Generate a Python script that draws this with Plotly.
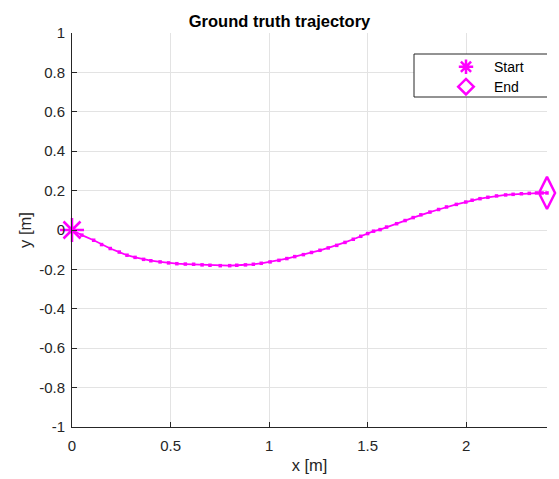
import plotly.graph_objects as go

# Trajectory samples
x_vals = [0.0, 0.05, 0.11, 0.15, 0.194, 0.24, 0.279, 0.32, 0.363, 0.40, 0.447, 0.49, 0.532, 0.575,
          0.617, 0.66, 0.70, 0.752, 0.80, 0.836, 0.88, 0.920, 0.96, 1.005, 1.05, 1.09, 1.13, 1.174,
          1.215, 1.258, 1.30, 1.343, 1.385, 1.427, 1.465, 1.50, 1.53, 1.563, 1.596, 1.647, 1.69,
          1.731, 1.77, 1.816, 1.86, 1.90, 1.95, 1.998, 2.03, 2.07, 2.11, 2.154, 2.20, 2.238, 2.28,
          2.32, 2.357, 2.385, 2.41]
y_vals = [0.0, -0.026, -0.052, -0.074, -0.094, -0.112, -0.128, -0.139, -0.149, -0.156, -0.162,
          -0.167, -0.171, -0.173, -0.174, -0.177, -0.179, -0.181, -0.181, -0.179, -0.177, -0.174,
          -0.169, -0.162, -0.154, -0.145, -0.135, -0.125, -0.114, -0.103, -0.091, -0.078, -0.063,
          -0.047, -0.032, -0.018, -0.006, 0.002, 0.015, 0.032, 0.048, 0.063, 0.077, 0.091, 0.104,
          0.117, 0.130, 0.142, 0.151, 0.159, 0.166, 0.173, 0.178, 0.181, 0.184, 0.186, 0.188,
          0.188, 0.188]

x_tick_vals = [0, 0.5, 1, 1.5, 2]
x_tick_text = ["0", "0.5", "1", "1.5", "2"]
y_tick_vals = [1, 0.8, 0.6, 0.4, 0.2, 0, -0.2, -0.4, -0.6, -0.8, -1]
y_tick_text = ["1", "0.8", "0.6", "0.4", "0.2", "0", "-0.2", "-0.4", "-0.6", "-0.8", "-1"]

legend_names = ["Start", "End"]

MAG = "#ff00ff"
INK = "#262626"
FONT = "Liberation Sans, Arial, sans-serif"

W, H = 559, 479
ML, MR, MT, MB = 72, 12, 33, 52
PW, PH = W - ML - MR, H - MT - MB


def px2x(px):
    return (px - ML) / PW


def py2y(py):
    return (H - MB - py) / PH


fig = go.Figure()
fig.add_trace(go.Scatter(
    x=x_vals, y=y_vals, mode="lines+markers",
    line=dict(color=MAG, width=1.8),
    marker=dict(color=MAG, size=3.5, symbol="square"),
    showlegend=False, hoverinfo="skip", cliponaxis=False))
fig.add_trace(go.Scatter(
    x=[x_vals[0]], y=[y_vals[0]], mode="markers", showlegend=False, name=legend_names[0],
    marker=dict(symbol="asterisk-open", size=20, color=MAG, line=dict(color=MAG, width=2.5)),
    cliponaxis=False))
fig.add_trace(go.Scatter(
    x=[x_vals[-1]], y=[y_vals[-1]], mode="markers", showlegend=False, name=legend_names[1],
    marker=dict(symbol="diamond-tall-open", size=23, color=MAG, line=dict(color=MAG, width=2.5)),
    cliponaxis=False))

# Legend box (drawn as a MATLAB-style legend)
leg_left, leg_right, leg_top, leg_bot = 414, 551, 54, 97
leg_sym_x, leg_txt_x = 466, 492
leg_rows = [66.7, 86.7]
leg_symbols = ["asterisk-open", "diamond-open"]

fig.add_trace(go.Scatter(
    x=[px2x(leg_left), px2x(leg_right), px2x(leg_right), px2x(leg_left), px2x(leg_left)],
    y=[py2y(leg_bot), py2y(leg_bot), py2y(leg_top), py2y(leg_top), py2y(leg_bot)],
    xaxis="x2", yaxis="y2", mode="lines", fill="toself", fillcolor="white",
    line=dict(color=INK, width=1), showlegend=False, hoverinfo="skip", cliponaxis=False))
for name, sym, row in zip(legend_names, leg_symbols, leg_rows):
    fig.add_trace(go.Scatter(
        x=[px2x(leg_sym_x)], y=[py2y(row)], xaxis="x2", yaxis="y2", mode="markers",
        marker=dict(symbol=sym, size=12, color=MAG, line=dict(color=MAG, width=2.5)),
        showlegend=False, hoverinfo="skip", cliponaxis=False))
    fig.add_annotation(xref="paper", yref="paper", x=px2x(leg_txt_x), y=py2y(row),
                       text=name, showarrow=False, xanchor="left", yanchor="middle",
                       font=dict(family=FONT, size=14, color="#000000"))

axis_common = dict(
    showline=True, linecolor=INK, linewidth=1, mirror=False,
    ticks="inside", ticklen=5, tickcolor=INK, tickwidth=1,
    showgrid=True, gridcolor="#e3e3e3", gridwidth=1, automargin=False,
    zeroline=False, tickfont=dict(family=FONT, size=15, color=INK),
)

fig.update_layout(
    xaxis=dict(range=[0, 2.41], tickvals=x_tick_vals, ticktext=x_tick_text,
               ticklabelstandoff=5,
               title=dict(text="x [m]", font=dict(family=FONT, size=16.5, color=INK), standoff=6),
               **axis_common),
    yaxis=dict(range=[-1, 1], tickvals=y_tick_vals, ticktext=y_tick_text,
               ticklabelstandoff=3,
               title=dict(text="y [m]", font=dict(family=FONT, size=16.5, color=INK), standoff=3),
               **axis_common),
    xaxis2=dict(overlaying="x", range=[0, 1], visible=False),
    yaxis2=dict(overlaying="y", range=[0, 1], visible=False),
    width=W, height=H,
    margin=dict(l=ML, r=MR, t=MT, b=MB, autoexpand=False),
    paper_bgcolor="white", plot_bgcolor="white",
    title=dict(text="<b>Ground truth trajectory</b>", x=0.5, xanchor="center",
               y=1 - 21 / H, yanchor="middle",
               font=dict(family=FONT, size=16.5, color="#000000")),
    showlegend=False,
)

fig.write_html("out.html")
